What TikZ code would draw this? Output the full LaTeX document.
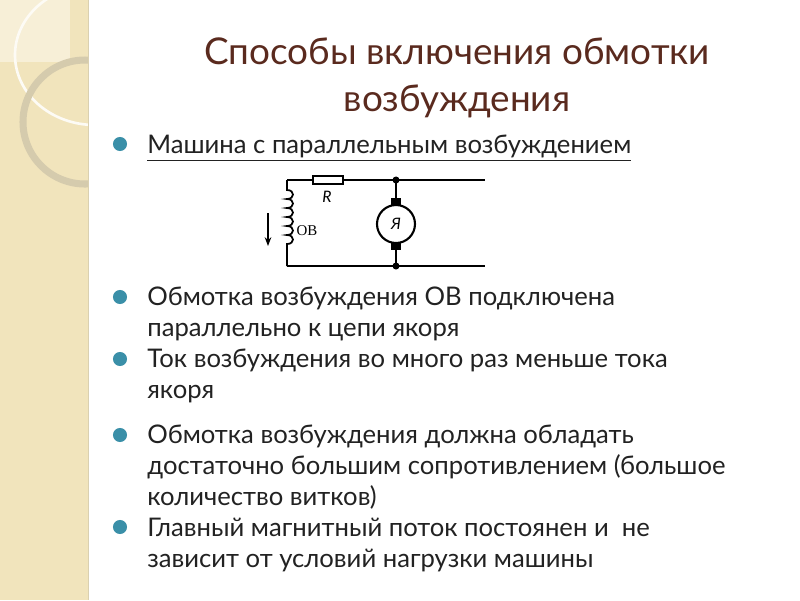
\documentclass[tikz,border=0pt]{standalone}
\usepackage{fontspec}
\setmainfont{Lato}
\newfontfamily\serif{Liberation Serif}
\usetikzlibrary{arrows.meta}
\definecolor{strip}{HTML}{F1E4BC}
\definecolor{titlec}{HTML}{5A2A1E}
\definecolor{bul}{HTML}{3A8FA8}
\definecolor{txt}{HTML}{222222}
\tikzset{body/.style={anchor=base west,font=\fontsize{14.6pt}{16pt}\selectfont,text=txt,inner sep=0pt},
 bull/.style={circle,fill=bul,minimum size=8pt,inner sep=0pt},
 wire/.style={line width=1pt},
 dot/.style={circle,fill=black,minimum size=4pt,inner sep=0pt}}
\begin{document}
\begin{tikzpicture}[x=0.02cm,y=-0.02cm]
\useasboundingbox (0,0) rectangle (800,600);
\fill[white] (0,0) rectangle (800,600);
\fill[strip] (0,0) rectangle (88,600);
\fill[strip!60!white] (0,0) rectangle (70,62);
\begin{scope}
\clip (0,0) rectangle (88,600);
\draw[white!85!strip,line width=1.5pt] (95,55) ellipse (80 and 70);
\draw[gray!25!strip,line width=4pt] (85,122) circle (62);
\end{scope}
\draw[strip!80!gray] (88,0)--(88,600);
% title
\node[font=\fontsize{21pt}{26pt}\selectfont,text=titlec,align=center] (title) at (457,78) {Способы включения обмотки\\[1pt]возбуждения};
% bullets
\foreach \y/\n in {144/b1,297/b2,359/b3,435/b4,527/b5} \node[bull] (\n) at (120,\y) {};
\node[body] (t1) at (147,153) {\underline{Машина с параллельным возбуждением}};
\node[body] (t2) at (147,305) {Обмотка возбуждения ОВ подключена};
\node[body] (t2b) at (147,336) {параллельно к цепи якоря};
\node[body] (t3) at (147,367) {Ток возбуждения во много раз меньше тока};
\node[body] (t3b) at (147,398) {якоря};
\node[body] (t4) at (147,443) {Обмотка возбуждения должна обладать};
\node[body] (t4b) at (147,474) {достаточно большим сопротивлением (большое};
\node[body] (t4c) at (147,505) {количество витков)};
\node[body] (t5) at (147,536) {Главный магнитный поток постоянен и\ \ не};
\node[body] (t5b) at (147,567) {зависит от условий нагрузки машины};
% circuit
\coordinate (tl) at (287,180); \coordinate (bl) at (287,266);
\coordinate (tr) at (485,180); \coordinate (br) at (485,266);
\node[dot] (jt) at (396,180) {};
\node[dot] (jb) at (396,266) {};
\draw[wire] (313,176) rectangle (343,184);
\node[font=\itshape\fontsize{9pt}{10pt}\selectfont] (Rl) at (327,197) {R};
\draw[wire] (tl)--(313,180) (343,180)--(jt.center)--(tr);
\draw[wire] (bl)--(jb.center)--(br);
\draw[wire] (tl)--(287,190)
  \foreach \k in {0,...,5} { .. controls (295,190+9*\k) and (295,199+9*\k) .. (287,199+9*\k) }
  --(bl);
\node[font=\serif\fontsize{8.5pt}{9pt}\selectfont] (ov) at (307,231) {ОВ};
\coordinate (a1) at (268,213); \coordinate (a2) at (268,246);
\draw[line width=0.8pt,-{Stealth[length=5pt]}] (a1)--(a2);
\draw[line width=1.2pt] (396,224) circle (19);
\node[font=\itshape\fontsize{9pt}{10pt}\selectfont] (Ml) at (396,224) {Я};
\fill (391,198) rectangle (401,205);
\fill (391,243) rectangle (401,250);
\draw[wire] (jt.center)--(396,198) (396,250)--(jb.center);
\end{tikzpicture}
\end{document}
